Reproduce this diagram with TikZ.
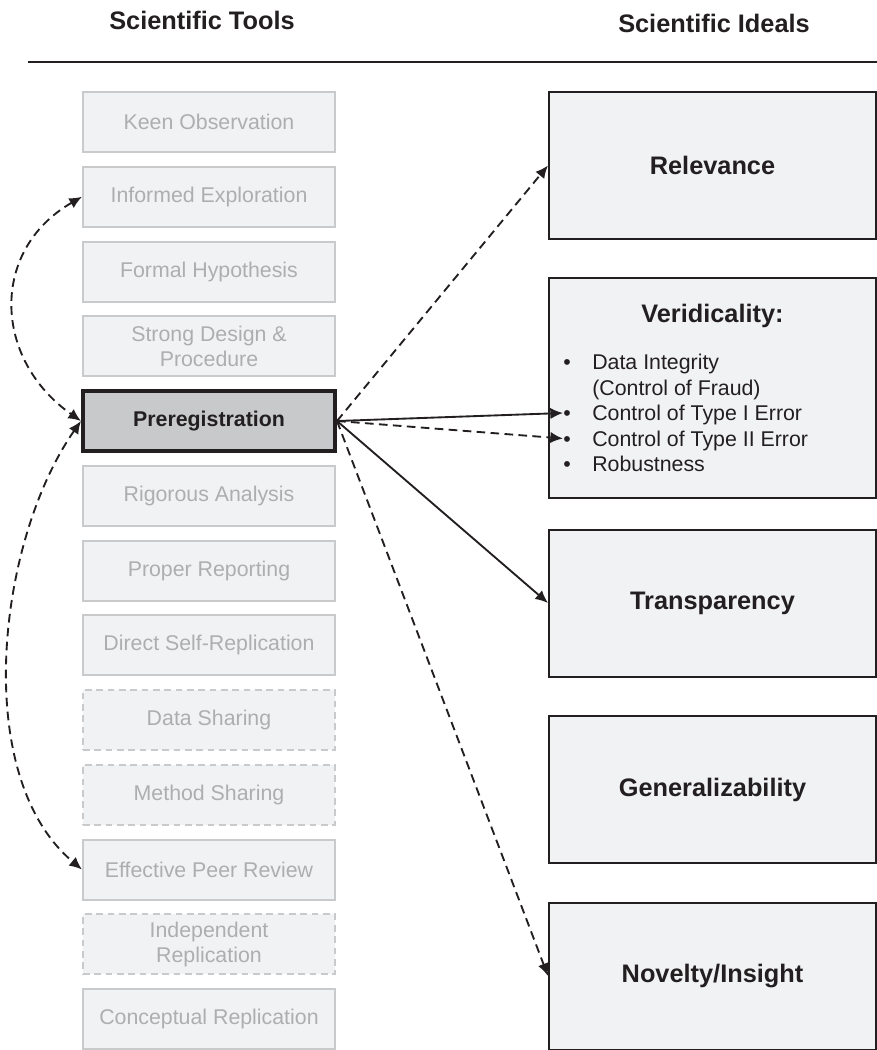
\documentclass[tikz,border=0pt]{standalone}
\usepackage{fontspec}
\setmainfont{Liberation Sans}
\usetikzlibrary{calc,arrows.meta}

\definecolor{boxfill}{HTML}{F1F2F4}
\definecolor{toolline}{HTML}{C9CACC}
\definecolor{tooltext}{HTML}{ADAEB0}
\definecolor{ink}{HTML}{231F20}
\definecolor{pickfill}{HTML}{C8C9CB}

\tikzset{
    tool/.style={draw=toolline, line width=1.5pt, fill=boxfill, text=tooltext,
        minimum width=189pt, minimum height=45pt, inner sep=0pt, align=center,
        font=\fontsize{16}{18.75}\selectfont},
    shared/.style={tool, dash pattern=on 5pt off 3.5pt},
    picked/.style={tool, draw=ink, line width=3pt, fill=pickfill, text=ink,
        font=\fontsize{16}{18.75}\selectfont\bfseries},
    ideal/.style={draw=ink, line width=1.5pt, fill=boxfill, text=ink,
        minimum width=245.25pt, minimum height=110.25pt, inner sep=0pt,
        font=\fontsize{19}{23}\selectfont\bfseries},
    head/.style={text=ink, inner sep=0pt, font=\fontsize{19}{23}\selectfont\bfseries},
    item/.style={anchor=west, inner sep=0pt, text=ink, text height=11.5pt, text depth=0pt,
        font=\fontsize{16}{19}\selectfont},
    link/.style={ink, line width=1.4pt, ->},
    dlink/.style={link, dash pattern=on 6.5pt off 4pt},
}

\begin{document}
\begin{tikzpicture}[x=0.75pt, y=-0.75pt, >={Latex[length=9.5pt,width=8.5pt]}]
    \useasboundingbox (0,0) rectangle (877,1050);

    \node (toolhead) at (202,20) [head] {Scientific Tools};
    \node (idealhead) at (714,23) [head] {Scientific Ideals};
    \draw [ink, line width=1.6pt] (28,62) -- (877,62);

    \node (keen) at (209,122) [tool] {Keen Observation};
    \node (infor) at ($(keen) + (0,74.75)$) [tool] {Informed Exploration};
    \node (formal) at ($(infor) + (0,74.75)$) [tool] {Formal Hypothesis};
    \node (design) at ($(formal) + (0,74.75)$) [tool] {Strong Design \&\\Procedure};
    \node (prereg) at ($(design) + (0,74.75)$) [picked] {Preregistration};
    \node (rigor) at ($(prereg) + (0,74.75)$) [tool] {Rigorous Analysis};
    \node (report) at ($(rigor) + (0,74.75)$) [tool] {Proper Reporting};
    \node (selfrep) at ($(report) + (0,74.75)$) [tool] {Direct Self-Replication};
    \node (datash) at ($(selfrep) + (0,74.75)$) [shared] {Data Sharing};
    \node (methsh) at ($(datash) + (0,74.75)$) [shared] {Method Sharing};
    \node (peer) at ($(methsh) + (0,74.75)$) [tool] {Effective Peer Review};
    \node (indep) at ($(peer) + (0,74.75)$) [shared] {Independent\\Replication};
    \node (concep) at ($(indep) + (0,74.75)$) [tool] {Conceptual Replication};

    \node (relev) at (712.5,165.5) [ideal] {Relevance};
    \node (verid) at (712.5,388) [ideal, minimum height=165pt] {};
    \node (veridtitle) at ($(verid.north) + (0,39)$) [head] {Veridicality:};
    \node (integ) at (563,362) [item] {\makebox[21.75pt][l]{\textbullet}Data Integrity};
    \node (fraud) at ($(integ.west) + (0,25.5)$) [item] {\makebox[21.75pt][l]{}(Control of Fraud)};
    \node (typeone) at ($(fraud.west) + (0,25.5)$) [item] {\makebox[21.75pt][l]{\textbullet}Control of Type I Error};
    \node (typetwo) at ($(typeone.west) + (0,25.5)$) [item] {\makebox[21.75pt][l]{\textbullet}Control of Type II Error};
    \node (robust) at ($(typetwo.west) + (0,25.5)$) [item] {\makebox[21.75pt][l]{\textbullet}Robustness};
    \node (transp) at (712.5,603) [ideal] {Transparency};
    \node (general) at (712.5,789.5) [ideal] {Generalizability};
    \node (novel) at (712.5,976) [ideal] {Novelty/Insight};

    \foreach \t/\s in {relev/dlink, typeone/link, typetwo/dlink, transp/link, novel/dlink}
        {
            \draw [\s] (prereg.east) -- (\t.west);
        }

    \draw [dlink, <->] (infor.west) to [out=210, in=145, looseness=1.22] (prereg.west);
    \draw [dlink, <->] (prereg.west) to [out=235, in=140, looseness=0.83] (peer.west);

\end{tikzpicture}
\end{document}
